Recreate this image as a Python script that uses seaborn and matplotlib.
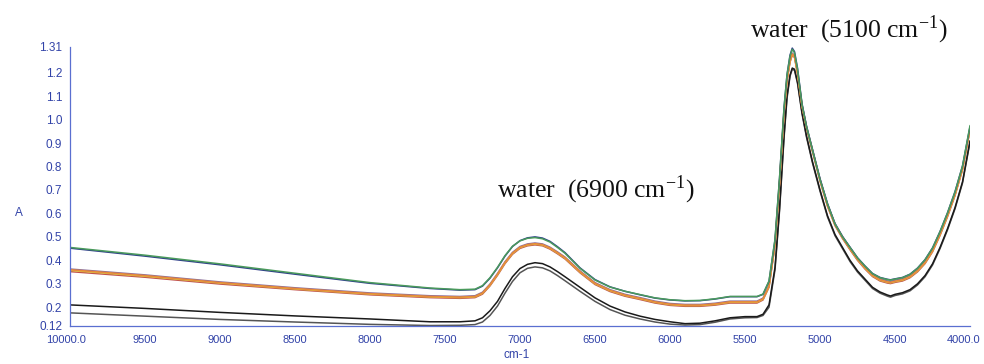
import matplotlib
matplotlib.use("Agg")
import matplotlib.pyplot as plt
import matplotlib.transforms as mtransforms
import seaborn as sns
import pandas as pd

# wavenumbers (cm-1)
wn = [10000, 9500, 9000, 8500, 8000, 7600, 7400, 7300, 7250, 7200,
      7150, 7100, 7050, 7000, 6950, 6900, 6850, 6800, 6750, 6700,
      6600, 6500, 6400, 6300, 6200, 6100, 6000, 5900, 5800, 5700,
      5600, 5500, 5420, 5380, 5340, 5300, 5270, 5240, 5220, 5200,
      5185, 5170, 5150, 5120, 5090, 5050, 5000, 4950, 4900, 4850,
      4800, 4750, 4700, 4650, 4600, 4550, 4530, 4500, 4450, 4400,
      4350, 4300, 4250, 4200, 4150, 4100, 4050, 4000]

green = [0.455, 0.422, 0.385, 0.345, 0.305, 0.282, 0.275, 0.277, 0.292, 0.326,
         0.370, 0.420, 0.460, 0.483, 0.494, 0.497, 0.492, 0.478, 0.455, 0.430,
         0.366, 0.316, 0.286, 0.268, 0.254, 0.240, 0.232, 0.228, 0.229, 0.236,
         0.246, 0.246, 0.246, 0.256, 0.312, 0.490, 0.750, 1.050, 1.190, 1.270,
         1.300, 1.285, 1.215, 1.065, 0.970, 0.870, 0.745, 0.640, 0.555, 0.500,
         0.455, 0.410, 0.375, 0.343, 0.326, 0.318, 0.316, 0.320, 0.326, 0.340,
         0.366, 0.402, 0.452, 0.522, 0.602, 0.692, 0.802, 0.975]

navy = [0.452, 0.418, 0.381, 0.341, 0.302, 0.280, 0.273, 0.275, 0.290, 0.324,
        0.368, 0.418, 0.459, 0.484, 0.496, 0.500, 0.495, 0.481, 0.458, 0.433,
        0.368, 0.318, 0.287, 0.268, 0.253, 0.239, 0.231, 0.227, 0.228, 0.235,
        0.245, 0.245, 0.245, 0.255, 0.310, 0.487, 0.748, 1.048, 1.192, 1.275,
        1.305, 1.290, 1.220, 1.068, 0.972, 0.872, 0.748, 0.642, 0.556, 0.501,
        0.456, 0.411, 0.376, 0.344, 0.327, 0.319, 0.317, 0.321, 0.327, 0.341,
        0.367, 0.403, 0.453, 0.523, 0.603, 0.693, 0.803, 0.970]

orange = [0.360, 0.335, 0.305, 0.280, 0.258, 0.246, 0.243, 0.246, 0.261, 0.296,
          0.341, 0.391, 0.431, 0.456, 0.467, 0.471, 0.467, 0.453, 0.433, 0.411,
          0.352, 0.302, 0.272, 0.252, 0.238, 0.223, 0.213, 0.209, 0.209, 0.214,
          0.223, 0.223, 0.223, 0.236, 0.290, 0.470, 0.730, 1.030, 1.170, 1.250,
          1.280, 1.270, 1.200, 1.060, 0.968, 0.868, 0.743, 0.635, 0.553, 0.498,
          0.450, 0.405, 0.368, 0.336, 0.317, 0.308, 0.306, 0.311, 0.317, 0.331,
          0.356, 0.391, 0.441, 0.511, 0.591, 0.681, 0.791, 0.960]

red = [0.352, 0.328, 0.299, 0.275, 0.253, 0.241, 0.238, 0.241, 0.256, 0.291,
       0.336, 0.386, 0.426, 0.451, 0.462, 0.466, 0.462, 0.448, 0.428, 0.406,
       0.347, 0.297, 0.267, 0.247, 0.233, 0.218, 0.208, 0.204, 0.204, 0.209,
       0.218, 0.218, 0.218, 0.231, 0.285, 0.465, 0.725, 1.025, 1.165, 1.245,
       1.275, 1.265, 1.195, 1.055, 0.963, 0.863, 0.738, 0.630, 0.548, 0.493,
       0.445, 0.400, 0.363, 0.331, 0.312, 0.303, 0.301, 0.306, 0.312, 0.326,
       0.351, 0.386, 0.436, 0.506, 0.586, 0.676, 0.786, 0.955]

yellow = [0.357, 0.332, 0.303, 0.278, 0.256, 0.244, 0.241, 0.244, 0.259, 0.294,
          0.339, 0.389, 0.429, 0.454, 0.465, 0.469, 0.465, 0.451, 0.431, 0.409,
          0.350, 0.300, 0.270, 0.250, 0.236, 0.221, 0.211, 0.207, 0.207, 0.212,
          0.221, 0.221, 0.221, 0.234, 0.288, 0.468, 0.728, 1.028, 1.168, 1.248,
          1.278, 1.268, 1.198, 1.058, 0.966, 0.866, 0.741, 0.633, 0.551, 0.496,
          0.448, 0.403, 0.366, 0.334, 0.315, 0.306, 0.304, 0.309, 0.315, 0.329,
          0.354, 0.389, 0.439, 0.509, 0.589, 0.679, 0.789, 0.958]

purple = [0.363, 0.338, 0.308, 0.283, 0.261, 0.249, 0.246, 0.249, 0.264, 0.299,
          0.344, 0.394, 0.434, 0.459, 0.470, 0.474, 0.470, 0.456, 0.436, 0.414,
          0.355, 0.305, 0.275, 0.255, 0.241, 0.226, 0.216, 0.212, 0.212, 0.217,
          0.226, 0.226, 0.226, 0.239, 0.293, 0.473, 0.733, 1.033, 1.173, 1.253,
          1.284, 1.274, 1.204, 1.064, 0.972, 0.872, 0.747, 0.639, 0.557, 0.502,
          0.454, 0.409, 0.372, 0.340, 0.321, 0.312, 0.310, 0.315, 0.321, 0.335,
          0.360, 0.395, 0.445, 0.515, 0.595, 0.685, 0.795, 0.964]

black = [0.210, 0.195, 0.178, 0.163, 0.150, 0.138, 0.138, 0.142, 0.155, 0.185,
         0.225, 0.280, 0.330, 0.365, 0.383, 0.390, 0.386, 0.372, 0.352, 0.330,
         0.285, 0.240, 0.205, 0.180, 0.162, 0.148, 0.138, 0.130, 0.132, 0.142,
         0.155, 0.160, 0.160, 0.170, 0.210, 0.370, 0.620, 0.930, 1.100, 1.190,
         1.220, 1.215, 1.160, 1.030, 0.930, 0.820, 0.700, 0.590, 0.510, 0.455,
         0.400, 0.355, 0.320, 0.285, 0.265, 0.252, 0.248, 0.255, 0.262, 0.275,
         0.300, 0.335, 0.385, 0.455, 0.535, 0.625, 0.735, 0.910]

gray = [0.176, 0.162, 0.148, 0.137, 0.127, 0.122, 0.123, 0.126, 0.137, 0.165,
        0.205, 0.260, 0.310, 0.347, 0.366, 0.372, 0.368, 0.355, 0.335, 0.313,
        0.268, 0.225, 0.190, 0.166, 0.150, 0.137, 0.128, 0.124, 0.126, 0.136,
        0.150, 0.155, 0.156, 0.165, 0.200, 0.360, 0.610, 0.920, 1.090, 1.185,
        1.215, 1.210, 1.155, 1.025, 0.925, 0.815, 0.695, 0.585, 0.505, 0.450,
        0.395, 0.350, 0.315, 0.280, 0.260, 0.247, 0.243, 0.250, 0.257, 0.270,
        0.295, 0.330, 0.380, 0.450, 0.530, 0.620, 0.730, 0.905]

series = {"gray": gray, "black": black, "purple": purple, "red": red,
          "yellow": yellow, "orange": orange, "navy": navy, "green": green}
colors = {"gray": "#555555", "black": "#1a1a1a", "purple": "#8a6f9a",
          "red": "#c0504d", "yellow": "#d8c040", "orange": "#e8883a",
          "navy": "#2f3f8a", "green": "#4a9a5c"}

yticks = [0.12, 0.2, 0.3, 0.4, 0.5, 0.6, 0.7, 0.8, 0.9, 1.0, 1.1, 1.2, 1.31]
ytick_labels = ["0.12", "0.2", "0.3", "0.4", "0.5", "0.6", "0.7", "0.8", "0.9",
                "1.0", "1.1", "1.2", "1.31"]
xticks = [10000, 9500, 9000, 8500, 8000, 7500, 7000, 6500, 6000, 5500, 5000, 4500, 4000]
xtick_labels = ["10000.0", "9500", "9000", "8500", "8000", "7500", "7000",
                "6500", "6000", "5500", "5000", "4500", "4000.0"]

rows = []
for name, vals in series.items():
    for w, v in zip(wn, vals):
        rows.append({"wn": w, "A": v, "sample": name})
df = pd.DataFrame(rows)

sns.set_style("white")
plt.rcParams["font.family"] = ["Liberation Sans", "DejaVu Sans"]
plt.rcParams["mathtext.fontset"] = "stix"

fig = plt.figure(figsize=(9.84, 3.64), dpi=100)
ax = fig.add_axes([0.0711, 0.1044, 0.9147, 0.7666])

sns.lineplot(data=df, x="wn", y="A", hue="sample", palette=colors,
             hue_order=list(series.keys()), legend=False, estimator=None,
             linewidth=1.1, ax=ax)

ax.set_xlim(10000, 4000)
ax.set_ylim(0.12, 1.31)

blue = "#3243a8"
axis_blue = "#5a6fd0"
for s in ["top", "right"]:
    ax.spines[s].set_visible(False)
for s in ["left", "bottom"]:
    ax.spines[s].set_color(axis_blue)
    ax.spines[s].set_linewidth(0.9)

ax.set_xticks(xticks)
ax.set_xticklabels(xtick_labels)
ax.set_yticks(yticks)
ax.set_yticklabels(ytick_labels)
ax.tick_params(axis="both", colors=axis_blue, labelcolor=blue, labelsize=8.5,
               direction="inout", length=3, width=0.8)
ax.tick_params(axis="x", labelsize=8, pad=5)
ax.tick_params(axis="y", pad=4)
ax.set_xlabel("")
ax.set_ylabel("")

# nudge the end labels slightly inward so they stay inside the figure
xlabels = ax.get_xticklabels()
xlabels[-1].set_transform(xlabels[-1].get_transform() +
                          mtransforms.ScaledTranslation(-5 / 72, 0, fig.dpi_scale_trans))
xlabels[0].set_transform(xlabels[0].get_transform() +
                         mtransforms.ScaledTranslation(-3 / 72, 0, fig.dpi_scale_trans))

fig.text(0.015, 0.415, "A", color=blue, fontsize=8.5, ha="left", va="center")
fig.text(0.512, 0.025, "cm-1", color=blue, fontsize=8.5, ha="left", va="center")

ax.text(7150, 0.70, r"water  (6900 cm$^{\mathregular{-1}}$)", family="Liberation Serif",
        fontsize=18.5, color="#111111", ha="left", va="center")
ax.text(5470, 1.385, r"water  (5100 cm$^{\mathregular{-1}}$)", family="Liberation Serif",
        fontsize=18.5, color="#111111", ha="left", va="center", clip_on=False)

fig.savefig("out.png", dpi=100)
